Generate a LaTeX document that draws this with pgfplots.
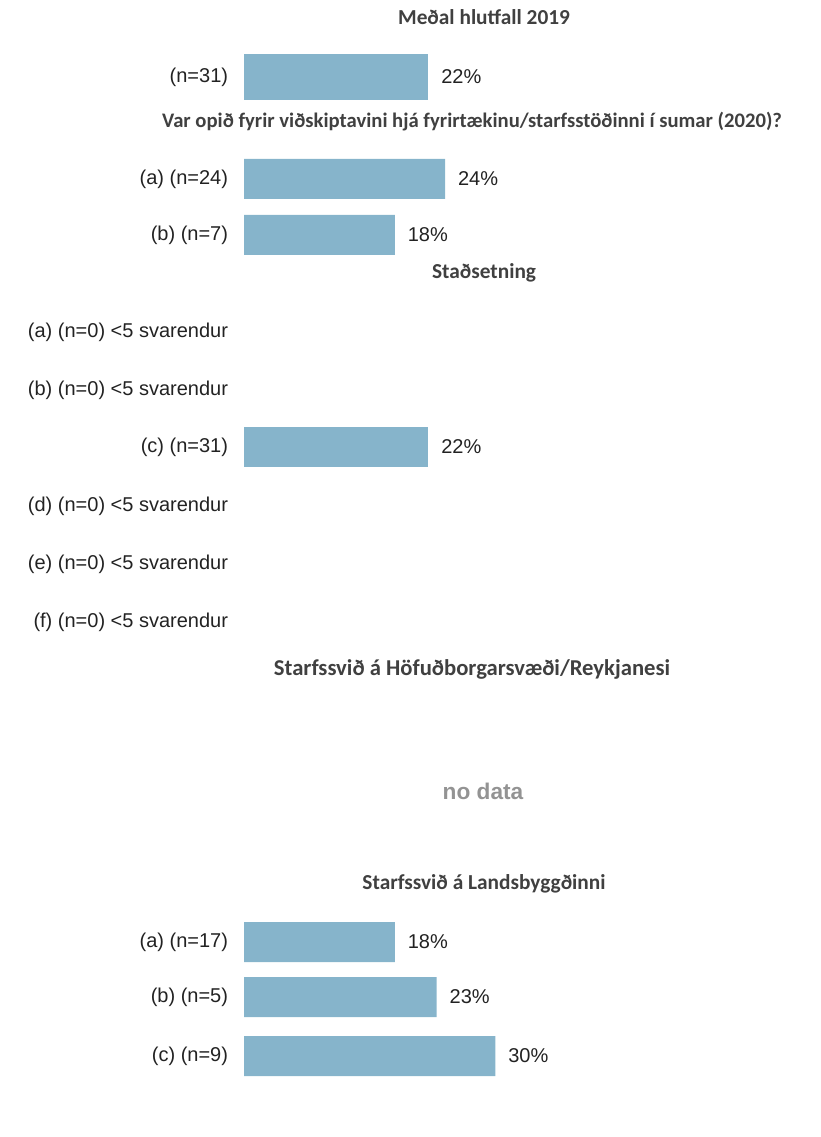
\documentclass[border=0pt]{standalone}
\usepackage{pgfplots}
\pgfplotsset{compat=1.18}
\usepackage{fontspec}
\setmainfont{Liberation Sans}
\newfontfamily\titlefont{Carlito}
\definecolor{barblue}{HTML}{86B4CB}
\definecolor{titlegray}{HTML}{404040}
\definecolor{labelblack}{HTML}{222222}
\begin{document}
\begin{tikzpicture}
\begin{axis}[
  scale only axis,
  width=615pt, height=852.75pt,
  at={(0,0)}, anchor=south west,
  xmin=-29.117, xmax=68.735,
  ymin=0, ymax=1137, y dir=reverse,
  axis line style={draw=none},
  tick style={draw=none},
  xtick=\empty,
  ytick={77,179,235,332,390,447,506,564,622,942,997,1056},
  yticklabels={{(n=31)},{(a) (n=24)},{(b) (n=7)},
    {(a) (n=0) <5 svarendur},{(b) (n=0) <5 svarendur},{(c) (n=31)},
    {(d) (n=0) <5 svarendur},{(e) (n=0) <5 svarendur},{(f) (n=0) <5 svarendur},
    {(a) (n=17)},{(b) (n=5)},{(c) (n=9)}},
  yticklabel style={anchor=east, inner sep=0pt, xshift=175.5pt, font=\fontsize{15}{18}\selectfont, text=labelblack},
  xbar, bar shift=0pt,
  clip=false,
  nodes near coords={\pgfmathprintnumber[assume math mode=true]{\pgfplotspointmeta}\%},
  point meta=x,
  every node near coord/.append style={anchor=west, inner sep=0pt, xshift=9.5pt, font=\fontsize{15}{18}\selectfont, text=labelblack},
]
% Panel 1
\addplot[fill=barblue, draw=none, bar width=46] coordinates {(22,77)};
% Panel 2
\addplot[fill=barblue, draw=none, bar width=40] coordinates {(24,179) (18,235)};
% Panel 3
\addplot[fill=barblue, draw=none, bar width=40] coordinates {(22,447)};
% Panel 5
\addplot[fill=barblue, draw=none, bar width=40] coordinates {(18,942) (23,997) (30,1056)};

\node[font=\titlefont\bfseries\fontsize{16}{19}\selectfont, text=titlegray] at (axis cs:28.64,17) {Meðal hlutfall 2019};
\node[font=\titlefont\bfseries\fontsize{15.5}{19}\selectfont, text=titlegray] at (axis cs:27.21,122) {Var opið fyrir viðskiptavini hjá fyrirtækinu/starfsstöðinni í sumar (2020)?};
\node[font=\titlefont\bfseries\fontsize{16}{19}\selectfont, text=titlegray] at (axis cs:28.64,273) {Staðsetning};
\node[font=\titlefont\bfseries\fontsize{17}{20}\selectfont, text=titlegray] at (axis cs:27.21,669) {Starfssvið á Höfuðborgarsvæði/Reykjanesi};
\node[font=\titlefont\bfseries\fontsize{16}{19}\selectfont, text=titlegray] at (axis cs:28.64,884) {Starfssvið á Landsbyggðinni};
\node[font=\bfseries\fontsize{17}{20}\selectfont, text=gray!85] at (axis cs:28.52,791) {no data};
\end{axis}
\pgfresetboundingbox
\path[use as bounding box] (0,0) rectangle (615pt,852.75pt);
\end{tikzpicture}
\end{document}
